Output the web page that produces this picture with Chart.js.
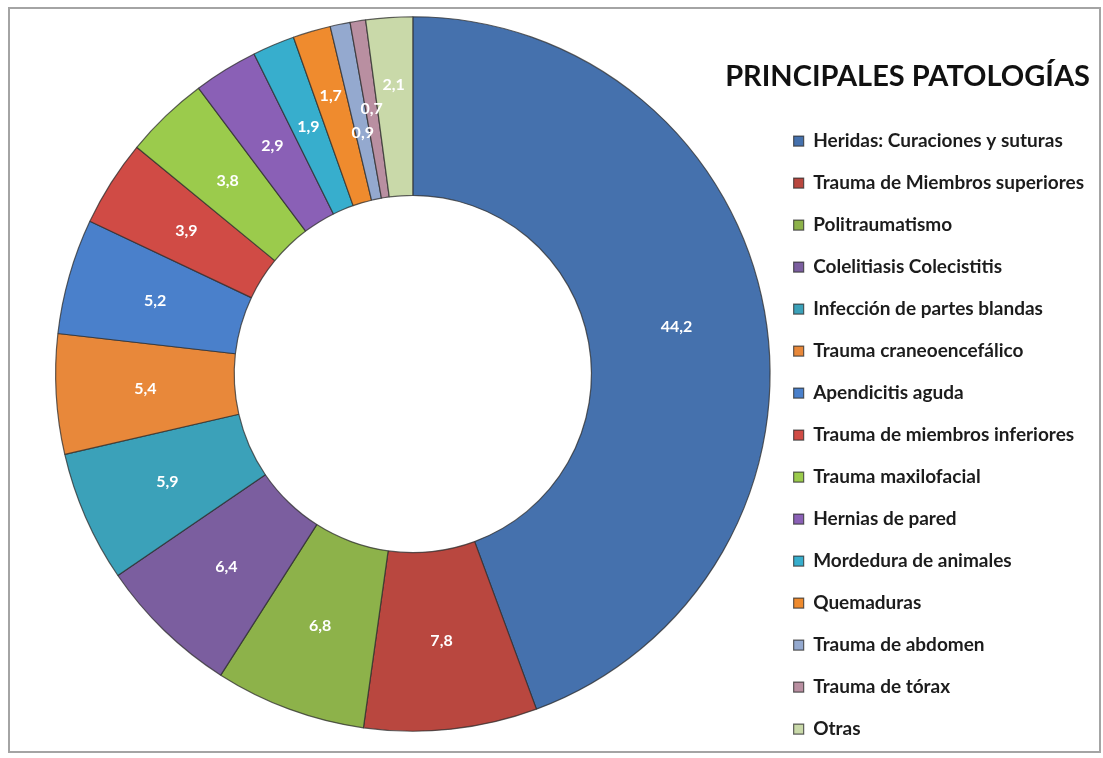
<!DOCTYPE html>
<html lang="es">
<head>
<meta charset="utf-8">
<title>Principales patologías</title>
<script src="https://cdn.jsdelivr.net/npm/chart.js@4.4.1/dist/chart.umd.min.js"></script>
<style>
    html, body { margin: 0; padding: 0; background: #fff; overflow: hidden; }
    body { width: 1103px; height: 758px; position: relative; font-family: Lato, 'Open Sans', sans-serif; }
    #frame {
        position: absolute; left: 8px; top: 7px;
        width: 1089px; height: 742px;
        border: 2px solid #a4a4a4;
        background: #fff;
    }
    #patologiasChart { position: absolute; left: 0; top: -20px; }
    #chart-title {
        position: absolute; right: 13px; top: 60px;
        margin: 0;
        font-size: 29px; line-height: 30px; font-weight: bold;
        color: #111; white-space: nowrap;
    }
</style>
</head>
<body>
<div id="frame"></div>
<canvas id="patologiasChart" width="1103" height="798"></canvas>
<h1 id="chart-title"></h1>
<script>
const chartTitle = 'PRINCIPALES PATOLOGÍAS';

const categories = [
    'Heridas: Curaciones y suturas',
    'Trauma de Miembros superiores',
    'Politraumatismo',
    'Colelitiasis Colecistitis',
    'Infección de partes blandas',
    'Trauma craneoencefálico',
    'Apendicitis aguda',
    'Trauma de miembros inferiores',
    'Trauma maxilofacial',
    'Hernias de pared',
    'Mordedura de animales',
    'Quemaduras',
    'Trauma de abdomen',
    'Trauma de tórax',
    'Otras'
];

const percentages = [44.2, 7.8, 6.8, 6.4, 5.9, 5.4, 5.2, 3.9, 3.8, 2.9, 1.9, 1.7, 0.9, 0.7, 2.1];

const sliceColors = [
    '#4571ad', '#b9473f', '#8db24a', '#7b5e9f', '#3ba1b9',
    '#e8883a', '#4a80cb', '#d04b45', '#9bcb4c', '#8a60b6',
    '#37aecd', '#ef8b2e', '#94a9cf', '#b98fa1', '#c9d9a9'
];

const FONT = "Lato, 'Open Sans', sans-serif";

document.getElementById('chart-title').textContent = chartTitle;

// white value labels inside the slices; labels of thin slices are
// staggered in and out along the radius so they do not sit on each other
const valueLabels = {
    id: 'valueLabels',
    afterDatasetsDraw(chart) {
        const ctx = chart.ctx;
        const meta = chart.getDatasetMeta(0);
        const stagger = [0, 22, -22];
        let narrow = 0;
        ctx.save();
        ctx.font = `bold 16px ${FONT}`;
        ctx.fillStyle = '#ffffff';
        ctx.textAlign = 'center';
        ctx.textBaseline = 'middle';
        meta.data.forEach((arc, i) => {
            const { x, y, startAngle, endAngle, innerRadius, outerRadius } =
                arc.getProps(['x', 'y', 'startAngle', 'endAngle', 'innerRadius', 'outerRadius'], true);
            const mid = (startAngle + endAngle) / 2;
            let r = (innerRadius + outerRadius) / 2;
            if (endAngle - startAngle < 0.16) {
                r += stagger[narrow % stagger.length];
                narrow++;
            }
            const txt = percentages[i].toFixed(1).replace('.', ',');
            ctx.fillText(txt, x + Math.cos(mid) * r, y + Math.sin(mid) * r);
        });
        ctx.restore();
    }
};

const ctx = document.getElementById('patologiasChart').getContext('2d');

new Chart(ctx, {
    type: 'doughnut',
    data: {
        labels: categories,
        datasets: [{
            data: percentages,
            backgroundColor: sliceColors,
            borderColor: 'rgba(45, 45, 45, 0.75)',
            borderWidth: 1.2,
            hoverOffset: 0
        }]
    },
    options: {
        responsive: false,
        animation: false,
        devicePixelRatio: 1,
        cutout: '50%',
        layout: { padding: { left: 55, right: 9, top: 0, bottom: 10 } },
        plugins: {
            tooltip: { enabled: false },
            legend: {
                position: 'right',
                align: 'start',
                // the visible heading is the h1 above; this empty title only
                // leaves room for it on top of the legend items
                title: {
                    display: true,
                    text: '',
                    font: { family: FONT, size: 28, weight: 'bold' },
                    padding: { top: 80, bottom: 15 }
                },
                labels: {
                    boxWidth: 10,
                    boxHeight: 10,
                    padding: 23,
                    color: '#1c1c1c',
                    font: { family: FONT, size: 19, weight: 'bold' }
                }
            }
        }
    },
    plugins: [valueLabels]
});
</script>
</body>
</html>
